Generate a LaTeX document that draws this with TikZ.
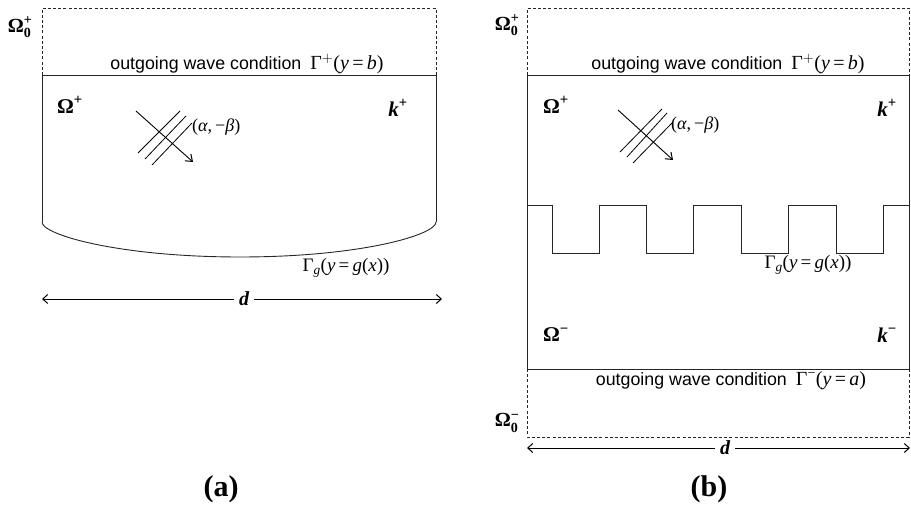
\documentclass[tikz,border=0pt]{standalone}
\usepackage{amsmath}
\usepackage{fontspec}
\setmainfont{Liberation Serif}
\setsansfont{Liberation Sans}
\usetikzlibrary{arrows.meta}
\tikzset{
  solidline/.style={line width=0.9pt, draw=black!85},
  dashline/.style={line width=0.8pt, draw=black!85, dash pattern=on 3pt off 2.2pt},
  wavearrow/.style={line width=0.9pt, -{Straight Barb[length=6pt,width=9pt,line width=1pt]}},
  waveline/.style={line width=0.8pt},
  dimarrow/.style={line width=0.9pt, -{Straight Barb[length=5pt,width=9pt,line width=1pt]}},
  dlab/.style={font=\fontsize{20}{22}\selectfont\bfseries\itshape, inner sep=5pt},
  cond/.style={inner sep=0pt, anchor=base},
  region/.style={font=\fontsize{21}{24}\selectfont, inner sep=0pt},
  oregion/.style={font=\fontsize{20}{23}\selectfont, inner sep=0pt},
  dirlab/.style={font=\fontsize{18}{20}\selectfont, inner sep=0pt, anchor=west},
  glab/.style={font=\fontsize{19}{22}\selectfont, inner sep=0pt, anchor=base},
  caplab/.style={font=\fontsize{30}{34}\selectfont\bfseries, inner sep=0pt}
}
\newcommand{\condtext}[2]{{\sffamily\fontsize{17.8}{20}\selectfont outgoing wave condition}\hspace{9pt}{\fontsize{20}{23}\selectfont Γ$^{#1}$(\textit{y}\,=\,\textit{#2})}}
\begin{document}
\begin{tikzpicture}[x=1pt,y=-1pt]
\useasboundingbox (0,0) rectangle (911,505);

% ---------- panel (a) ----------
\draw[dashline] (42,75) -- (42,8) -- (436,8) -- (436,75);
\draw[solidline] (42,222) -- (42,75) -- (436,75) -- (436,222);
\draw[solidline] (42,222) .. controls (42,235) and (120,257) .. (240,257)
                          .. controls (360,257) and (436,235) .. (436,222);
\node[cond] (condA) at (247,70) {\condtext{+}{b}};
\node[oregion] (OmZA) at (20,27) {$\text{\bfseries Ω}^{\text{\bfseries +}}_{\text{\bfseries 0}}$};
\node[region] (OmA) at (70,105) {$\text{\bfseries Ω}^{\text{\bfseries +}}$};
\node[region] (kA) at (398,108) {$\text{\bfseries\itshape k}^{\text{\bfseries +}}$};
\coordinate (wAs) at (136,111);
\coordinate (wAe) at (193,162);
\draw[wavearrow] (wAs) -- (wAe);
\draw[waveline] (138,153) -- (180,111);
\draw[waveline] (145,159) -- (186,116);
\draw[waveline] (152,165) -- (192,123);
\node[dirlab] (dirA) at (192,127) {(\textit{α},\,−\textit{β})};
\node[glab] (gA) at (346,272) {Γ$_{\text{\itshape g}}$(\textit{y}\,=\,\textit{g}(\textit{x}))};
\coordinate (dAL) at (42,299);
\coordinate (dAR) at (442,299);
\node[dlab] (dA) at (244,299) {d};
\draw[dimarrow] (dA) -- (dAL);
\draw[dimarrow] (dA) -- (dAR);
\node[caplab] (capA) at (221,489) {(a)};

% ---------- panel (b) ----------
\draw[dashline] (527,75) -- (527,8) -- (909,8) -- (909,75);
\draw[dashline] (527,369) -- (527,437) -- (909,437) -- (909,369);
\draw[solidline] (527,75) rectangle (909,369);
\draw[solidline] (527,205) -- (552,205) -- (552,253) -- (599,253) -- (599,205)
  -- (646,205) -- (646,253) -- (693,253) -- (693,205) -- (741,205) -- (741,253)
  -- (788,253) -- (788,205) -- (836,205) -- (836,253) -- (883,253) -- (883,205)
  -- (909,205);
\node[cond] (condB) at (728,70) {\condtext{+}{b}};
\node[cond] (condBm) at (731,385) {\condtext{−}{a}};
\node[oregion] (OmZB) at (507,25) {$\text{\bfseries Ω}^{\text{\bfseries +}}_{\text{\bfseries 0}}$};
\node[oregion] (OmZBm) at (507,423) {$\text{\bfseries Ω}^{\text{\bfseries −}}_{\text{\bfseries 0}}$};
\node[region] (OmB) at (556,105) {$\text{\bfseries Ω}^{\text{\bfseries +}}$};
\node[region] (kB) at (887,108) {$\text{\bfseries\itshape k}^{\text{\bfseries +}}$};
\node[region] (OmBm) at (556,335) {$\text{\bfseries Ω}^{\text{\bfseries −}}$};
\node[region] (kBm) at (887,335) {$\text{\bfseries\itshape k}^{\text{\bfseries −}}$};
\coordinate (wBs) at (618,110);
\coordinate (wBe) at (673,160);
\draw[wavearrow] (wBs) -- (wBe);
\draw[waveline] (620,152) -- (662,109);
\draw[waveline] (627,157) -- (667,113);
\draw[waveline] (633,163) -- (672,123);
\node[dirlab] (dirB) at (671,125) {(\textit{α},\,−\textit{β})};
\node[glab] (gB) at (808,269) {Γ$_{\text{\itshape g}}$(\textit{y}\,=\,\textit{g}(\textit{x}))};
\coordinate (dBL) at (527,448);
\coordinate (dBR) at (910,448);
\node[dlab] (dB) at (725,448) {d};
\draw[dimarrow] (dB) -- (dBL);
\draw[dimarrow] (dB) -- (dBR);
\node[caplab] (capB) at (709,489) {(b)};
\end{tikzpicture}
\end{document}
